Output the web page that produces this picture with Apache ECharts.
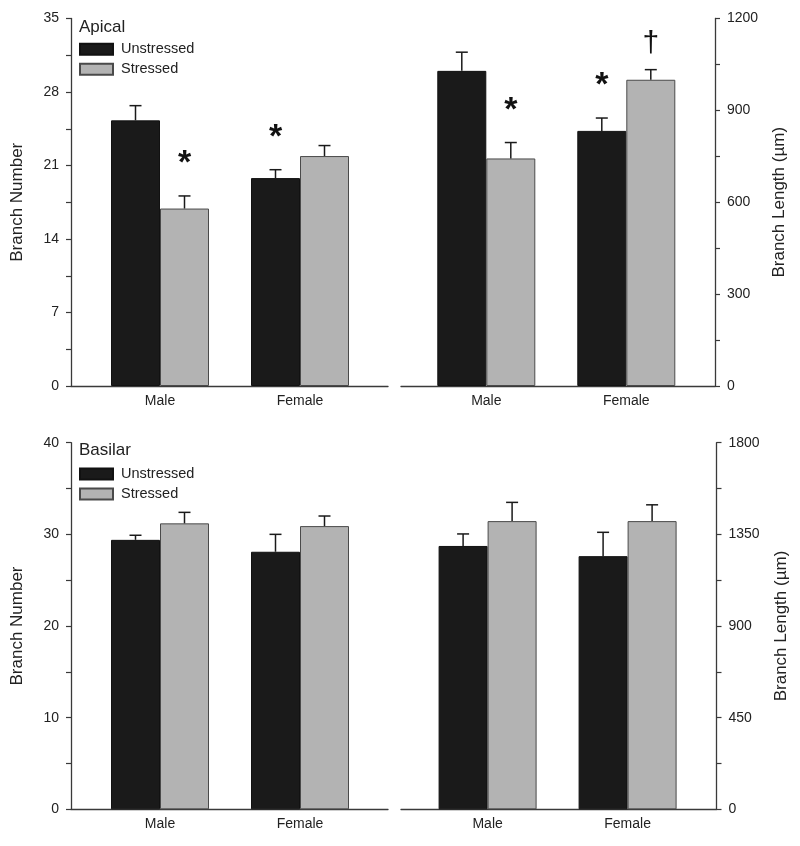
<!DOCTYPE html>
<html><head><meta charset="utf-8">
<script src="https://cdn.jsdelivr.net/npm/echarts@6/dist/echarts.min.js"></script>
<style>html,body{margin:0;padding:0;background:#fff}#c{width:800px;height:846px}</style>
</head><body><div id="c"></div>
<script>
// ---- data ----
const categories = ['Male', 'Female'];
const seriesNames = ['Unstressed', 'Stressed'];

const apicalNumberUnstressed = [25.3, 19.8];
const apicalNumberUnstressedSem = [1.4, 0.8];
const apicalNumberStressed = [16.9, 21.9];
const apicalNumberStressedSem = [1.2, 1.0];

const apicalLengthUnstressed = [1029, 833];
const apicalLengthUnstressedSem = [61, 42];
const apicalLengthStressed = [743, 1000];
const apicalLengthStressedSem = [52, 33];

const basilarNumberUnstressed = [29.4, 28.1];
const basilarNumberUnstressedSem = [0.5, 1.9];
const basilarNumberStressed = [31.2, 30.9];
const basilarNumberStressedSem = [1.2, 1.1];

const basilarLengthUnstressed = [1293, 1243];
const basilarLengthUnstressedSem = [59, 117];
const basilarLengthStressed = [1415, 1415];
const basilarLengthStressedSem = [92, 80];

// significance marks: [category index, series index (0 unstressed, 1 stressed), symbol]
const apicalNumberMarks = [[0, 1, '*'], [1, 0, '*']];
const apicalLengthMarks = [[0, 1, '*'], [1, 0, '*'], [1, 1, '†']];
const basilarNumberMarks = [];
const basilarLengthMarks = [];

const numberTicks = { apical: [0, 35, 7], basilar: [0, 40, 10] };
const lengthTicks = { apical: [0, 1200, 300], basilar: [0, 1800, 450] };

// ---- style ----
const FONT = '"Liberation Sans", Arial, Helvetica, sans-serif';
const AX = '#3a3a3a';
const TXT = '#222';
const BAR_W = 49;

const panels = [
  { frame: {left: 71, top: 18.5, width: 317, height: 367.5}, bars: {left: 90, top: 18.5, width: 280, height: 367.5},
    side: 'left', ticks: numberTicks.apical, name: 'Branch Number', nameGap: 45,
    u: apicalNumberUnstressed, uSem: apicalNumberUnstressedSem, s: apicalNumberStressed, sSem: apicalNumberStressedSem, marks: apicalNumberMarks },
  { frame: {left: 401, top: 18.5, width: 314, height: 367.5}, bars: {left: 416.3, top: 18.5, width: 280, height: 367.5},
    side: 'right', ticks: lengthTicks.apical, name: 'Branch Length (µm)', nameGap: 56,
    u: apicalLengthUnstressed, uSem: apicalLengthUnstressedSem, s: apicalLengthStressed, sSem: apicalLengthStressedSem, marks: apicalLengthMarks },
  { frame: {left: 71, top: 442.7, width: 317, height: 366.6}, bars: {left: 90, top: 442.7, width: 280, height: 366.6},
    side: 'left', ticks: numberTicks.basilar, name: 'Branch Number', nameGap: 45,
    u: basilarNumberUnstressed, uSem: basilarNumberUnstressedSem, s: basilarNumberStressed, sSem: basilarNumberStressedSem, marks: basilarNumberMarks },
  { frame: {left: 401, top: 442.7, width: 315.5, height: 366.6}, bars: {left: 417.6, top: 442.7, width: 280, height: 366.6},
    side: 'right', ticks: lengthTicks.basilar, name: 'Branch Length (µm)', nameGap: 56,
    u: basilarLengthUnstressed, uSem: basilarLengthUnstressedSem, s: basilarLengthStressed, sSem: basilarLengthStressedSem, marks: basilarLengthMarks }
];

const grid = [], xAxis = [], yAxis = [], series = [];

panels.forEach((p, k) => {
  const gf = 2 * k, gb = 2 * k + 1;
  grid.push(Object.assign({containLabel: false}, p.frame));
  grid.push(Object.assign({containLabel: false}, p.bars));
  const [mn, mx, iv] = p.ticks;

  xAxis.push({ type: 'value', gridIndex: gf, min: 0, max: 1, position: 'bottom',
    axisLine: {show: true, onZero: false, lineStyle: {color: AX, width: 1.3}},
    axisTick: {show: false}, axisLabel: {show: false}, splitLine: {show: false} });
  xAxis.push({ type: 'category', gridIndex: gb, data: categories,
    axisLine: {show: false}, axisTick: {show: false}, splitLine: {show: false},
    axisLabel: {margin: 8, fontSize: 14, color: TXT, fontFamily: FONT} });

  yAxis.push({ type: 'value', gridIndex: gf, position: p.side, min: mn, max: mx, interval: iv,
    axisLine: {show: true, onZero: false, lineStyle: {color: AX, width: 1.3}},
    axisTick: {show: true, inside: false, length: 5, lineStyle: {color: AX, width: 1.2}},
    minorTick: {show: true, splitNumber: 2, length: 5, lineStyle: {color: AX, width: 1.2}},
    axisLabel: {margin: 12, fontSize: 14, color: TXT, fontFamily: FONT, formatter: v => String(v)},
    splitLine: {show: false}, minorSplitLine: {show: false},
    name: p.name, nameLocation: 'middle', nameGap: p.nameGap, nameRotate: 90,
    nameTextStyle: {fontSize: 17, color: TXT, fontFamily: FONT} });
  yAxis.push({ type: 'value', gridIndex: gb, min: mn, max: mx, show: false });

  const sets = [
    {name: seriesNames[0], data: p.u, sem: p.uSem, color: '#1a1a1a', border: '#111', off: -BAR_W / 2},
    {name: seriesNames[1], data: p.s, sem: p.sSem, color: '#b3b3b3', border: '#4a4a4a', off: BAR_W / 2}
  ];
  sets.forEach(st => {
    series.push({ type: 'bar', name: st.name, xAxisIndex: gb, yAxisIndex: gb, data: st.data,
      barWidth: BAR_W, barGap: '0%', itemStyle: {color: st.color, borderColor: st.border, borderWidth: 1},
      emphasis: {disabled: true}, animation: false });
  });
  sets.forEach(st => {
    series.push({ type: 'custom', name: st.name + ' SEM', xAxisIndex: gb, yAxisIndex: gb, z: 5, animation: false,
      data: st.data.map((v, i) => [i, v, v + st.sem[i]]),
      encode: {x: 0, y: [1, 2]},
      renderItem: (params, api) => {
        const a = api.coord([api.value(0), api.value(1)]);
        const b = api.coord([api.value(0), api.value(2)]);
        const x = a[0] + st.off;
        return { type: 'group', children: [
          {type: 'line', shape: {x1: x, y1: a[1], x2: x, y2: b[1]}, style: {stroke: '#1a1a1a', lineWidth: 1.5}},
          {type: 'line', shape: {x1: x - 6, y1: b[1], x2: x + 6, y2: b[1]}, style: {stroke: '#1a1a1a', lineWidth: 1.5}}
        ]};
      } });
  });
  if (p.marks.length) {
    series.push({ type: 'custom', name: 'marks', xAxisIndex: gb, yAxisIndex: gb, z: 6, animation: false,
      data: p.marks.map(m => {
        const st = sets[m[1]];
        return [m[0], st.data[m[0]] + st.sem[m[0]], m[1]];
      }),
      encode: {x: 0, y: 1},
      renderItem: (params, api) => {
        const m = p.marks[params.dataIndex];
        const pt = api.coord([api.value(0), api.value(1)]);
        const x = pt[0] + sets[m[1]].off;
        const isStar = m[2] === '*';
        return { type: 'text', x: x, y: pt[1] - (isStar ? 15 : 11),
          style: { text: m[2], fill: '#111', align: 'center', verticalAlign: 'bottom',
            font: isStar ? ('bold 34px ' + FONT) : ('normal 30px ' + FONT) } };
      } });
  }
});

const legendBase = { orient: 'vertical', left: 79, itemWidth: 33, itemHeight: 11, itemGap: 5, icon: 'rect',
  data: seriesNames, selectedMode: false,
  textStyle: {fontSize: 14.5, color: TXT, fontFamily: FONT, padding: [0, 0, 0, 3]} };

const option = {
  backgroundColor: '#fff',
  animation: false,
  title: [
    {text: 'Apical', left: 79, top: 19, padding: 0, textStyle: {fontSize: 17, fontWeight: 'normal', color: TXT, fontFamily: FONT}},
    {text: 'Basilar', left: 79, top: 441.5, padding: 0, textStyle: {fontSize: 17, fontWeight: 'normal', color: TXT, fontFamily: FONT}}
  ],
  legend: [
    Object.assign({}, legendBase, {top: 41.8, padding: 0}),
    Object.assign({}, legendBase, {top: 466.5, padding: 0})
  ],
  grid, xAxis, yAxis, series
};

const chart = echarts.init(document.getElementById('c'), null, {renderer: 'canvas'});
chart.setOption(option);
</script>
</body></html>
